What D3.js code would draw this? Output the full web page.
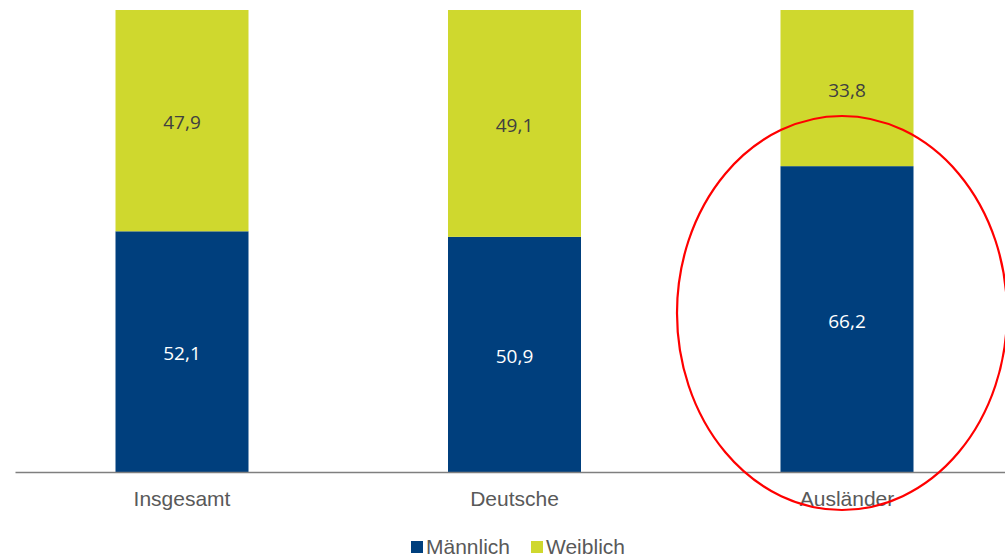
<!DOCTYPE html>
<html>
<head>
<meta charset="utf-8">
<script src="https://cdn.jsdelivr.net/npm/d3@7"></script>
<style>
  body { margin: 0; background: #fff; }
  svg { display: block; }
</style>
</head>
<body>
<div id="chart"></div>
<script>
const categories = ["Insgesamt", "Deutsche", "Ausländer"];
const maennlich = [52.1, 50.9, 66.2];
const weiblich = [47.9, 49.1, 33.8];
const seriesNames = ["Männlich", "Weiblich"];
const colors = ["#003f7d", "#cfd82e"];

const width = 1005;
const height = 557;

const rows = categories.map((c, i) => ({ cat: c, "Männlich": maennlich[i], "Weiblich": weiblich[i] }));
const stacked = d3.stack().keys(seriesNames)(rows);

// Scales
const x = d3.scaleBand()
    .domain(categories)
    .range([15.75, 1013.25])
    .paddingInner(0.6)
    .paddingOuter(0.3);

const y = d3.scaleLinear()
    .domain([0, 100])
    .range([472, 10]);

const svg = d3.select("#chart")
    .append("svg")
    .attr("width", width)
    .attr("height", height);

// Bars
const groups = svg.selectAll("g.series")
    .data(stacked)
    .enter()
    .append("g")
    .attr("class", "series")
    .attr("fill", (d, i) => colors[i]);

groups.selectAll("rect")
    .data(d => d)
    .enter()
    .append("rect")
    .attr("x", d => x(d.data.cat))
    .attr("y", d => y(d[1]))
    .attr("width", x.bandwidth())
    .attr("height", d => y(d[0]) - y(d[1]));

// Value labels
groups.each(function(s, si) {
  d3.select(this).selectAll("text")
    .data(s)
    .enter()
    .append("text")
    .attr("x", d => x(d.data.cat) + x.bandwidth() / 2)
    .attr("y", d => (y(d[0]) + y(d[1])) / 2 + 2)
    .attr("dy", "0.35em")
    .attr("text-anchor", "middle")
    .attr("font-family", "'Open Sans', sans-serif")
    .attr("font-size", 19)
    .attr("fill", si === 0 ? "#ffffff" : "#404040")
    .text(d => d3.format(".1f")(d[1] - d[0]).replace(".", ","));
});

// X axis
const xAxis = svg.append("g")
    .attr("transform", "translate(0,472)")
    .call(d3.axisBottom(x).tickSize(0).tickPadding(19));
xAxis.select(".domain").attr("stroke", "#7f7f7f").attr("stroke-width", 1.3)
    .attr("d", "M15.5,0.5H1005");
xAxis.selectAll("text")
    .attr("font-family", "'Liberation Sans', Arial, sans-serif")
    .attr("font-size", 21)
    .attr("fill", "#595959");

// Legend
const legend = svg.append("g").attr("transform", "translate(411,547)");
const legendX = [0, 120];
seriesNames.forEach((name, i) => {
  const g = legend.append("g").attr("transform", `translate(${legendX[i]},0)`);
  g.append("rect").attr("x", 0).attr("y", -6).attr("width", 12).attr("height", 12).attr("fill", colors[i]);
  g.append("text")
    .attr("x", 15)
    .attr("y", 0)
    .attr("dy", "0.35em")
    .attr("font-family", "'Liberation Sans', Arial, sans-serif")
    .attr("font-size", 21)
    .attr("fill", "#595959")
    .text(name);
});

// Highlight ellipse around Ausländer
svg.append("ellipse")
    .attr("cx", x("Ausländer") + x.bandwidth() / 2 - 5)
    .attr("cy", 313)
    .attr("rx", 165)
    .attr("ry", 197)
    .attr("fill", "none")
    .attr("stroke", "#ff0000")
    .attr("stroke-width", 2.2);
</script>
</body>
</html>
